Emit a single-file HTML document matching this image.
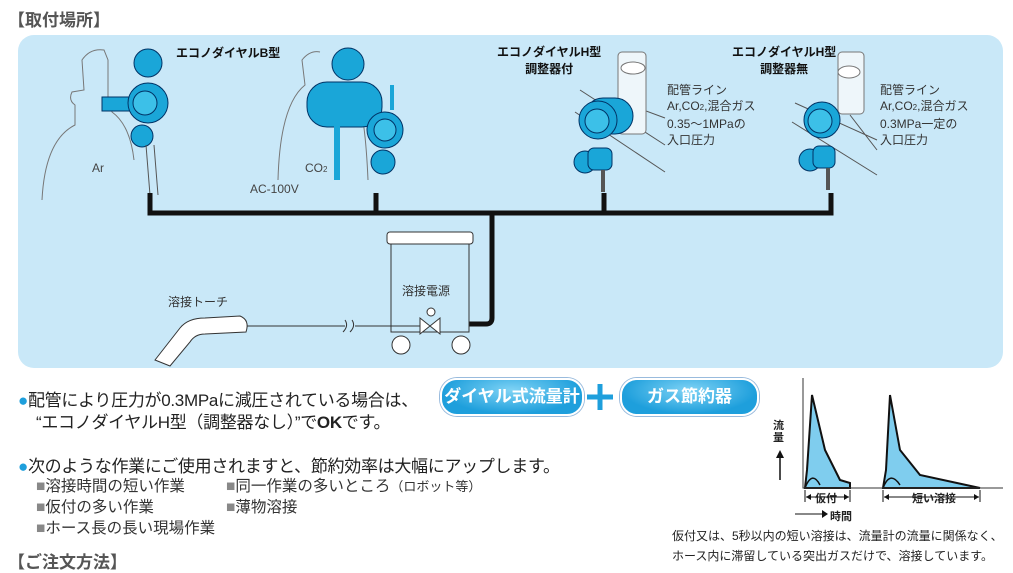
<!DOCTYPE html>
<html><head><meta charset="utf-8"><style>
body{margin:0;width:1013px;height:573px;background:#fff;position:relative;overflow:hidden;font-family:"Liberation Sans","Noto Sans CJK JP",sans-serif;color:#222}
.t{position:absolute;white-space:nowrap}
.h{font-size:17px;font-weight:bold;color:#555}
.b{font-weight:bold;font-size:12px;color:#111}
.s{font-size:12px;color:#333;line-height:16px}
.m{font-size:17px;color:#222;letter-spacing:-0.3px}
.l{font-size:15.5px;color:#222}
.pill{position:absolute;height:34px;border-radius:17px;background:radial-gradient(ellipse at 50% 30%,#7fd3f5,#1e9fdc 70%);color:#fff;font-weight:bold;font-size:17px;text-align:center;line-height:34px;border:2px solid #fff;box-shadow:0 0 0 1px #9bd}
</style></head><body>
<div class="t h" style="left:8px;top:6px">【取付場所】</div>
<svg width="1013" height="573" style="position:absolute;left:0;top:0">
<rect x="18" y="35" width="985" height="333" rx="16" fill="#c9e8f8"/>
<path d="M42 200 Q45 140 75 125 L75 105 Q68 100 72 92 L84 90 L82 60 Q90 48 104 50 L108 60 L108 100 L112 112 Q130 125 134 160" fill="none" stroke="#777" stroke-width="1"/>
<rect x="102" y="97" width="30" height="14" fill="#1aa6d8" stroke="#036" stroke-width="1"/>
<circle cx="148" cy="63" r="14" fill="#1aa6d8" stroke="#036"/>
<circle cx="148" cy="103" r="20" fill="#1aa6d8" stroke="#036"/>
<circle cx="145" cy="103" r="12" fill="#3cc0e8" stroke="#036"/>
<circle cx="142" cy="136" r="11" fill="#1aa6d8" stroke="#036"/>
<path d="M146 145 L150 195 M154 145 L158 195" stroke="#555"/>
<path d="M278 180 Q280 105 305 85 L302 60 Q310 50 320 52" fill="none" stroke="#777"/>
<path d="M355 90 Q365 110 368 180" fill="none" stroke="#777"/>
<circle cx="348" cy="64" r="16" fill="#1aa6d8" stroke="#036"/>
<rect x="307" y="82" width="75" height="45" rx="20" fill="#1aa6d8" stroke="#036"/>
<rect x="334" y="125" width="6" height="55" fill="#1aa6d8"/>
<circle cx="385" cy="130" r="18" fill="#1aa6d8" stroke="#036"/>
<circle cx="385" cy="130" r="11" fill="#3cc0e8" stroke="#036"/>
<circle cx="383" cy="162" r="12" fill="#1aa6d8" stroke="#036"/>
<rect x="390" y="85" width="4" height="25" fill="#1aa6d8"/>
<path d="M580 90 L665 145 M575 112 L665 172 M630 105 L665 118" stroke="#555" stroke-width="1"/>
<rect x="618" y="52" width="28" height="82" rx="4" fill="#eef6fa" stroke="#777"/>
<ellipse cx="633" cy="68" rx="12" ry="6" fill="#fff" stroke="#777"/>
<rect x="585" y="98" width="48" height="36" rx="18" fill="#1aa6d8" stroke="#036"/>
<circle cx="598" cy="120" r="19" fill="#1aa6d8" stroke="#036"/>
<circle cx="597" cy="121" r="12" fill="#3cc0e8" stroke="#036"/>
<circle cx="585" cy="162" r="11" fill="#1aa6d8" stroke="#036"/>
<rect x="588" y="148" width="24" height="22" rx="6" fill="#1aa6d8" stroke="#036"/>
<rect x="601" y="170" width="4" height="22" fill="#555"/>
<path d="M795 103 L877 140 M792 122 L877 175 M850 115 L877 150" stroke="#555" stroke-width="1"/>
<rect x="838" y="52" width="26" height="62" rx="4" fill="#eef6fa" stroke="#777"/>
<ellipse cx="849" cy="72" rx="11" ry="6" fill="#fff" stroke="#777"/>
<circle cx="822" cy="120" r="18" fill="#1aa6d8" stroke="#036"/>
<circle cx="820" cy="121" r="12" fill="#3cc0e8" stroke="#036"/>
<circle cx="810" cy="160" r="11" fill="#1aa6d8" stroke="#036"/>
<rect x="813" y="146" width="22" height="22" rx="6" fill="#1aa6d8" stroke="#036"/>
<rect x="826" y="168" width="4" height="22" fill="#555"/>
<g stroke="#111" stroke-width="5" fill="none">
<path d="M150 193 V213 H831 V193"/>
<path d="M376 193 V213 M604 193 V213"/>
<path d="M492 213 V318 Q492 324 486 324 H445"/>
</g>
<rect x="387" y="232" width="86" height="12" rx="3" fill="#fff" stroke="#333"/>
<rect x="391" y="244" width="78" height="88" fill="#c9e8f8" stroke="#333"/>
<circle cx="401" cy="345" r="9" fill="#fff" stroke="#333"/>
<circle cx="461" cy="345" r="9" fill="#fff" stroke="#333"/>
<path d="M390 326 H420 M420 318 L420 334 L440 318 L440 334 Z" stroke="#333" fill="#fff"/>
<circle cx="431" cy="312" r="4" fill="#fff" stroke="#333"/>
<path d="M245 326 H345 M355 326 H390" stroke="#333" fill="none"/>
<path d="M343 332 Q349 326 345 320 M350 332 Q356 326 352 320" stroke="#333" fill="none"/>
<path d="M155 360 L180 328 Q188 318 205 318 L240 316 Q250 320 246 332 L205 334 Q195 334 190 342 L170 366 Z" fill="#fff" stroke="#333"/>
<path d="M805 488 L807 470 L812 395 L825 450 L840 480 L850 483 L850 488 Z" fill="#7fcdee" stroke="#111" stroke-width="2"/>
<path d="M883 488 L886 470 L890 395 L900 450 L920 475 L980 488 Z" fill="#7fcdee" stroke="#111" stroke-width="2"/>
<path d="M805 488 Q812 470 820 485 M883 488 Q890 470 900 485" stroke="#111" fill="none" stroke-width="1.5"/>
<path d="M803 378 V488 H1003" stroke="#333" fill="none"/>
<path d="M780 480 V455" stroke="#111" stroke-width="1.5"/><path d="M776 458 L780 450 L784 458Z" fill="#111"/>
<path d="M805 490 V502 M850 490 V502 M883 490 V502 M980 490 V502" stroke="#111"/>
<path d="M806 497 H849 M884 497 H979" stroke="#111"/>
<path d="M806 497 l5 -3 v6z M849 497 l-5 -3 v6z M884 497 l5 -3 v6z M979 497 l-5 -3 v6z" fill="#111"/>
<path d="M795 514 H822" stroke="#111"/><path d="M822 510 L828 514 L822 518Z" fill="#111"/>
<path d="M600 384 V410 M587 397 H613" stroke="#1e9fdc" stroke-width="5"/>
</svg>
<div class="t b" style="left:176px;top:44px">エコノダイヤルB型</div>
<div class="t b" style="left:497px;top:44px;text-align:center;line-height:17px">エコノダイヤルH型<br>調整器付</div>
<div class="t b" style="left:732px;top:44px;text-align:center;line-height:17px">エコノダイヤルH型<br>調整器無</div>
<div class="t s" style="left:92px;top:160px;color:#444">Ar</div>
<div class="t s" style="left:305px;top:160px;color:#444">CO<small style="font-size:8px">2</small></div>
<div class="t s" style="left:250px;top:181px;color:#444">AC-100V</div>
<div class="t s" style="left:667px;top:82px">配管ライン<br>Ar,CO<small style="font-size:8px">2</small>,混合ガス<br>0.35～1MPaの<br>入口圧力</div>
<div class="t s" style="left:880px;top:82px">配管ライン<br>Ar,CO<small style="font-size:8px">2</small>,混合ガス<br>0.3MPa一定の<br>入口圧力</div>
<div class="t s" style="left:168px;top:294px">溶接トーチ</div>
<div class="t s" style="left:402px;top:283px">溶接電源</div>
<div class="t m" style="left:18px;top:386px"><span style="color:#1e9fdc">●</span>配管により圧力が0.3MPaに減圧されている場合は、</div>
<div class="t m" style="left:36px;top:408px">“エコノダイヤルH型（調整器なし）”で<b>OK</b>です。</div>
<div class="pill" style="left:440px;top:378px;width:140px">ダイヤル式流量計</div>
<div class="pill" style="left:620px;top:378px;width:135px">ガス節約器</div>
<div class="t m" style="left:18px;top:452px"><span style="color:#1e9fdc">●</span>次のような作業にご使用されますと、節約効率は大幅にアップします。</div>
<div class="t l" style="left:36px;top:474px;color:#333"><span style="color:#888">■</span>溶接時間の短い作業</div>
<div class="t l" style="left:226px;top:474px;color:#333"><span style="color:#888">■</span>同一作業の多いところ<span style="font-size:13px">（ロボット等）</span></div>
<div class="t l" style="left:36px;top:495px;color:#333"><span style="color:#888">■</span>仮付の多い作業</div>
<div class="t l" style="left:226px;top:495px;color:#333"><span style="color:#888">■</span>薄物溶接</div>
<div class="t l" style="left:36px;top:516px;color:#333"><span style="color:#888">■</span>ホース長の長い現場作業</div>
<div class="t h" style="left:8px;top:548px">【ご注文方法】</div>
<div class="t" style="left:773px;top:420px;font-size:11px;font-weight:bold;line-height:12px">流<br>量</div>
<div class="t" style="left:815px;top:490px;font-size:11px;font-weight:bold">仮付</div>
<div class="t" style="left:912px;top:490px;font-size:11px;font-weight:bold">短い溶接</div>
<div class="t" style="left:830px;top:508px;font-size:11px;font-weight:bold">時間</div>
<div class="t" style="left:672px;top:526px;font-size:12px;line-height:20px;color:#222">仮付又は、5秒以内の短い溶接は、流量計の流量に関係なく、<br>ホース内に滞留している突出ガスだけで、溶接しています。</div>
</body></html>
